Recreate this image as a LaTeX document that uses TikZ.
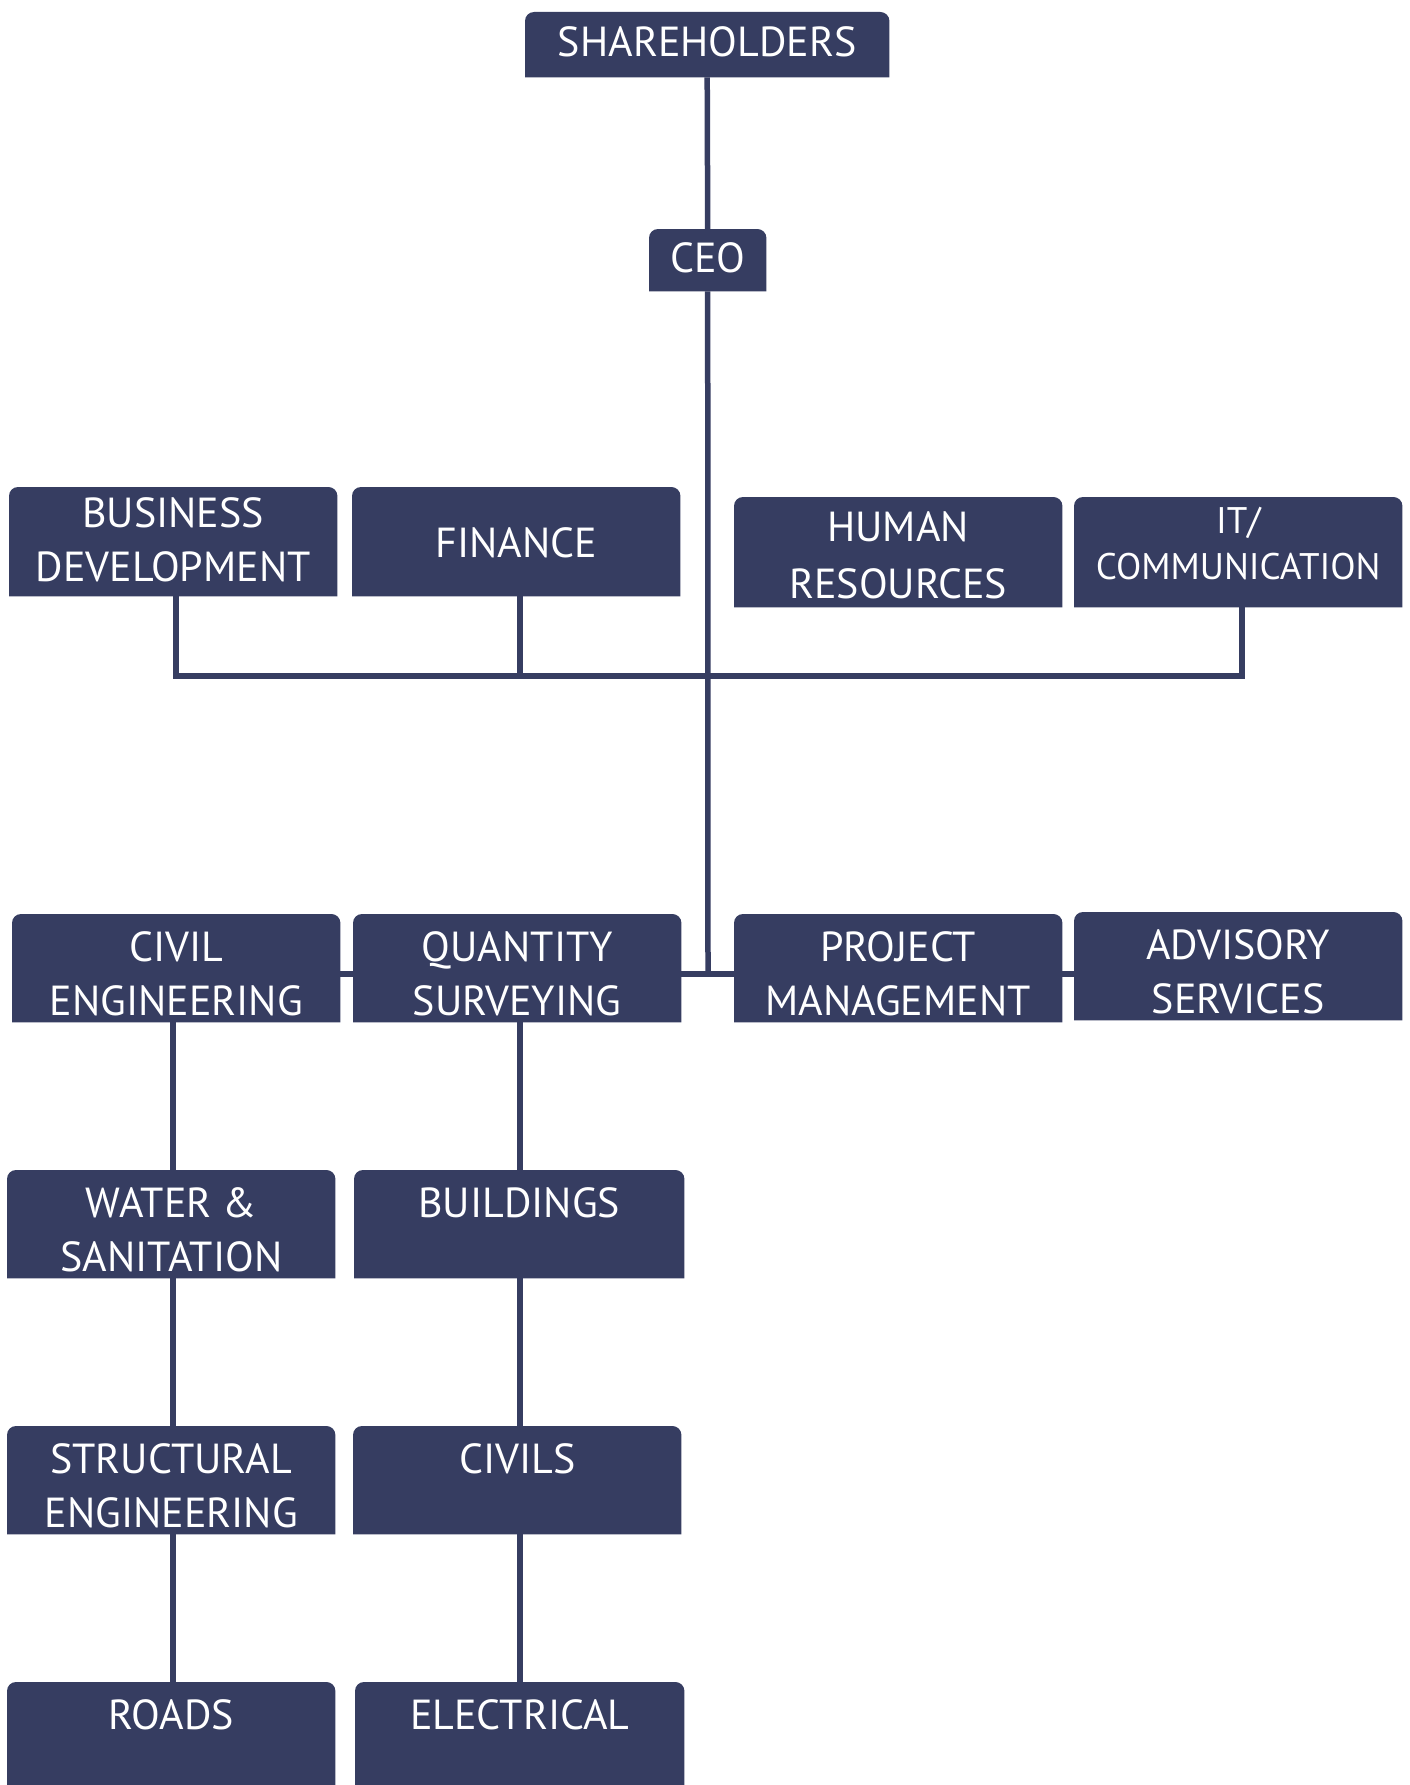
\documentclass[tikz,border=0pt]{standalone}
\usepackage{fontspec}
\setmainfont{PT Sans}
\usetikzlibrary{backgrounds}
\definecolor{navy}{HTML}{363D61}
\tikzset{
  orgbox/.style 2 args={minimum width=#1, minimum height=#2, inner sep=0pt, anchor=north west},
  lbl/.style={inner sep=0pt, text=white, align=center, font=\fontsize{42}{54}\selectfont},
  link/.style={draw=navy, line width=5.5pt},
  boxfill/.style={fill=navy}
}
\begin{document}
\begin{tikzpicture}[x=1pt, y={(0pt,-1pt)}]
\useasboundingbox (0,0) rectangle (1410,1785);
% boxes
\node[orgbox={364}{65}] (sh) at (525,12) {};
\node[orgbox={117}{62}] (ceo) at (649,229) {};
\node[orgbox={328}{109}] (bd) at (9,487) {};
\node[orgbox={328}{109}] (fin) at (352,487) {};
\node[orgbox={328}{110}] (hr) at (734,497) {};
\node[orgbox={328}{110}] (it) at (1074,497) {};
\node[orgbox={328}{108}] (ce) at (12,914) {};
\node[orgbox={328}{108}] (qs) at (353,914) {};
\node[orgbox={328}{108}] (pm) at (734,914) {};
\node[orgbox={328}{108}] (adv) at (1074,912) {};
\node[orgbox={328}{108}] (ws) at (7,1170) {};
\node[orgbox={330}{108}] (bld) at (354,1170) {};
\node[orgbox={328}{108}] (st) at (7,1426) {};
\node[orgbox={328}{108}] (cvs) at (353,1426) {};
\node[orgbox={328}{108}] (rd) at (7,1682) {};
\node[orgbox={329}{108}] (el) at (355,1682) {};
% labels (yshift is on the page: negative = down)
\node[lbl] (sh-t)  at ([yshift=2.4pt]sh.center) {SHAREHOLDERS};
\node[lbl] (ceo-t) at ([yshift=2.8pt]ceo.center) {CEO};
\node[lbl] (bd-t)  at ([yshift=2pt]bd.center) {BUSINESS\\DEVELOPMENT};
\node[lbl] (fin-t) at ([yshift=-1.3pt]fin.center) {FINANCE};
\node[lbl, font=\fontsize{42}{57}\selectfont] (hr-t) at ([yshift=-3.3pt]hr.center) {HUMAN\\RESOURCES};
\node[lbl, font=\fontsize{37}{46}\selectfont] (it-t) at ([yshift=9pt]it.center) {IT/\\COMMUNICATION};
\node[lbl] (ce-t)  at ([yshift=-5.5pt]ce.center) {CIVIL\\ENGINEERING};
\node[lbl] (qs-t)  at ([yshift=-5.5pt]qs.center) {QUANTITY\\SURVEYING};
\node[lbl] (pm-t)  at ([yshift=-5.5pt]pm.center) {PROJECT\\MANAGEMENT};
\node[lbl] (adv-t) at ([yshift=-5.3pt]adv.center) {ADVISORY\\SERVICES};
\node[lbl] (ws-t)  at ([yshift=-5.6pt]ws.center) {WATER \&\\SANITATION};
\node[lbl] (st-t)  at ([yshift=-5.7pt]st.center) {STRUCTURAL\\ENGINEERING};
\node[lbl] (bld-t) at ([yshift=-33pt]bld.north) {BUILDINGS};
\node[lbl] (cvs-t) at ([yshift=-33pt]cvs.north) {CIVILS};
\node[lbl] (rd-t)  at ([yshift=-33pt]rd.north) {ROADS};
\node[lbl] (el-t)  at ([yshift=-33pt]el.north) {ELECTRICAL};
% junction coordinates
\coordinate (j1) at (708,676);
\coordinate (j2) at (708,974);
\coordinate (cl) at (173,0);
\coordinate (cr) at (520,0);
\begin{scope}[on background layer]
  \fill[white] (0,0) rectangle (1410,1785);
  % connectors
  \draw[link] (sh.south) -- (ceo.north);
  \draw[link] (ceo.south) -- (j2);
  \draw[link] (bd.south -| 176,0) |- (j1) -| (it.south -| 1242,0);
  \draw[link] (fin.south -| cr) -- (j1 -| cr);
  \draw[link] (ce.east |- j2) -- (adv.west |- j2);
  \draw[link] (ce.south -| cl) -- (ws.north -| cl);
  \draw[link] (ws.south -| cl) -- (st.north -| cl);
  \draw[link] (st.south -| cl) -- (rd.north -| cl);
  \draw[link] (qs.south -| cr) -- (bld.north -| cr);
  \draw[link] (bld.south -| cr) -- (cvs.north -| cr);
  \draw[link] (cvs.south -| cr) -- (el.north -| cr);
  % box fills: top corners rounded, bottom corners square
  \foreach \n in {sh,ceo,bd,fin,hr,it,ce,qs,pm,adv,ws,bld,st,cvs,rd,el}{
    \fill[boxfill] (\n.south west) [rounded corners=9pt] -- (\n.north west)
      -- (\n.north east) [sharp corners] -- (\n.south east) -- cycle;
  }
\end{scope}
\end{tikzpicture}
\end{document}
